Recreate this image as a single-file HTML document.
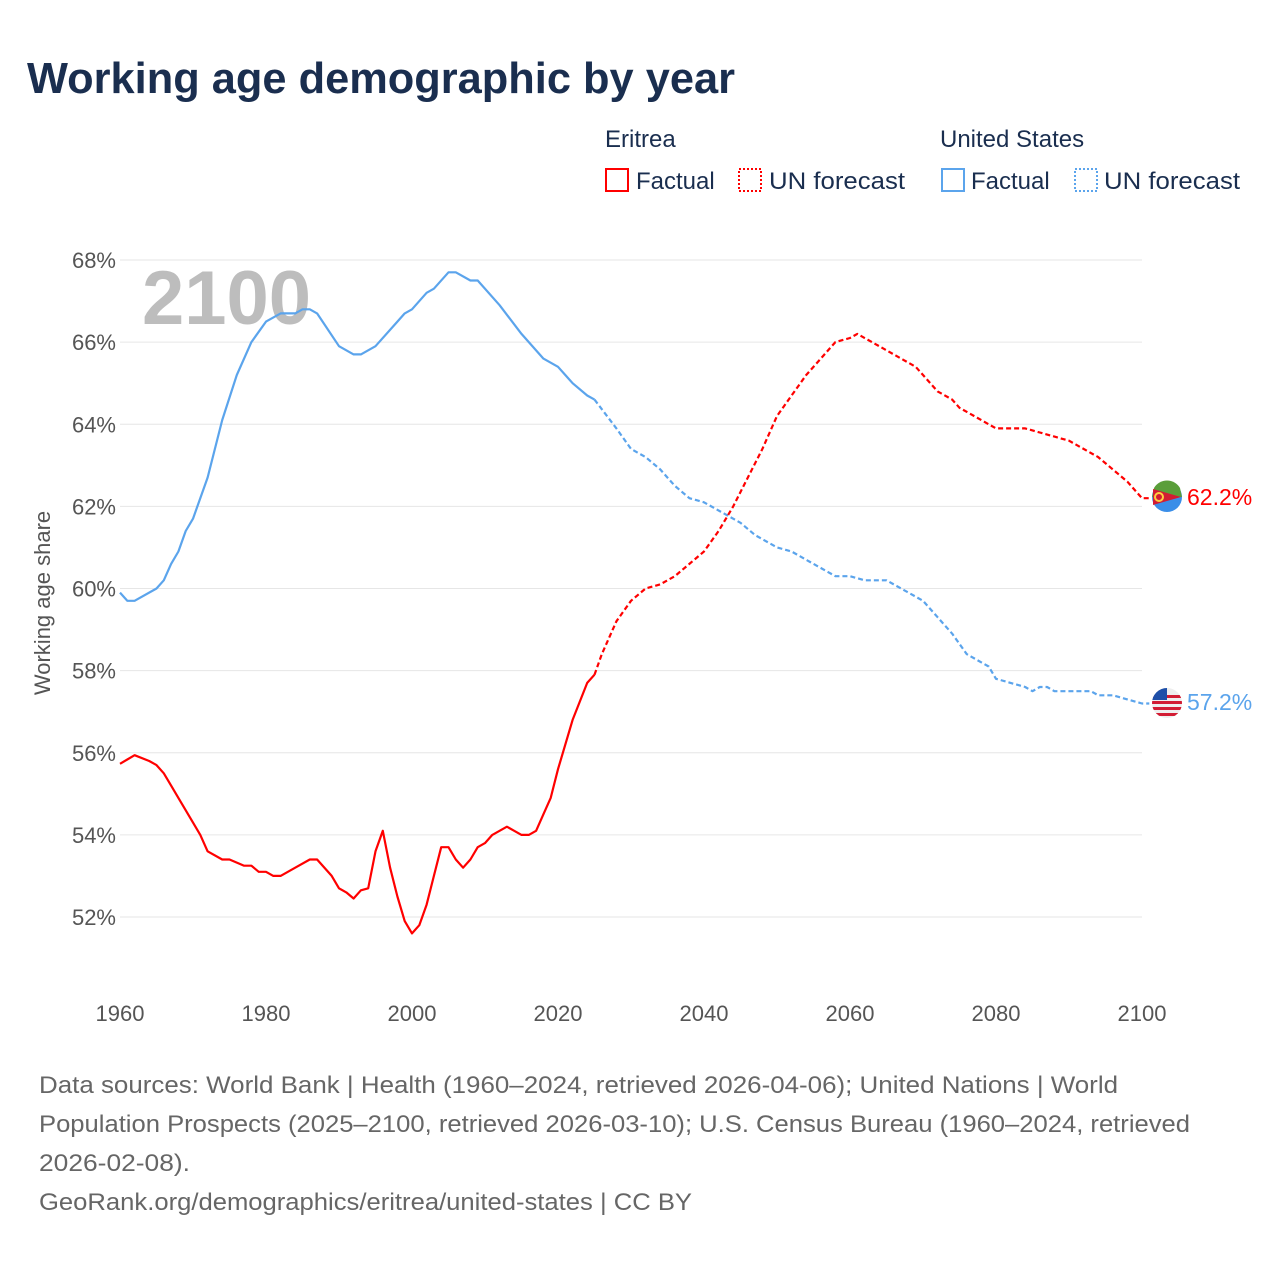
<!DOCTYPE html>
<html><head><meta charset="utf-8"><style>
body{margin:0;background:#fff;font-family:"Liberation Sans",sans-serif;}
</style></head><body>
<svg width="1280" height="1280" viewBox="0 0 1280 1280" xmlns="http://www.w3.org/2000/svg">
<defs><clipPath id="usc"><circle cx="1167" cy="703" r="15"/></clipPath></defs>
<text x="27" y="93" font-size="44" font-weight="bold" fill="#1a2e4f" textLength="708" lengthAdjust="spacingAndGlyphs">Working age demographic by year</text>
<g font-size="24" fill="#1a2e4f">
<text x="605" y="147">Eritrea</text>
<text x="940" y="147">United States</text>
<g><rect x="606" y="169" width="22" height="22" fill="none" stroke="#f00" stroke-width="2"/><text x="636" y="189">Factual</text></g>
<g><rect x="739" y="169" width="22" height="22" fill="none" stroke="#f00" stroke-width="2" stroke-dasharray="2,2"/><text x="769" y="189" textLength="136" lengthAdjust="spacingAndGlyphs">UN forecast</text></g>
<g><rect x="942" y="169" width="22" height="22" fill="none" stroke="#5ba4ec" stroke-width="2"/><text x="971" y="189">Factual</text></g>
<g><rect x="1075" y="169" width="22" height="22" fill="none" stroke="#5ba4ec" stroke-width="2" stroke-dasharray="2,2"/><text x="1104" y="189" textLength="136" lengthAdjust="spacingAndGlyphs">UN forecast</text></g>
</g>
<g id="grid"></g>
<g id="yticks" font-size="22" fill="#555" text-anchor="end"></g>
<g id="xticks" font-size="22" fill="#555" text-anchor="middle"></g>
<text x="0" y="0" transform="translate(50,603) rotate(-90)" font-size="22" fill="#555" text-anchor="middle">Working age share</text>
<text x="142" y="324" font-size="76" font-weight="bold" fill="#bdbdbd">2100</text>
<g id="series"></g>
<g>
<circle cx="1167" cy="497" r="15" fill="#3a8ee8"/>
<path d="M1152,497 L1182,497 L1180,488 A15,15 0 0 0 1154,488 Z" fill="#5a9e3a"/>
<path d="M1153,489 L1181,497 L1153,505 Z" fill="#d21c33"/>
<circle cx="1159" cy="497" r="4" fill="none" stroke="#ffcd40" stroke-width="2"/>
<text x="1187" y="505" font-size="23" fill="#f00">62.2%</text></g>
<g>
<g clip-path="url(#usc)">
<rect x="1150" y="686" width="34" height="34" fill="#eee"/>
<rect x="1150" y="695" width="34" height="3" fill="#d21c33"/><rect x="1150" y="701" width="34" height="3" fill="#d21c33"/><rect x="1150" y="707" width="34" height="3" fill="#d21c33"/><rect x="1150" y="713" width="34" height="3" fill="#d21c33"/>
<rect x="1150" y="686" width="17" height="14" fill="#1e4fa8"/>
</g>
<text x="1187" y="710" font-size="23" fill="#5ba4ec">57.2%</text></g>
<g font-size="24" fill="#666">
<text x="39" y="1093" textLength="1079" lengthAdjust="spacingAndGlyphs">Data sources: World Bank | Health (1960–2024, retrieved 2026-04-06); United Nations | World</text>
<text x="39" y="1132" textLength="1151" lengthAdjust="spacingAndGlyphs">Population Prospects (2025–2100, retrieved 2026-03-10); U.S. Census Bureau (1960–2024, retrieved</text>
<text x="39" y="1171" textLength="151" lengthAdjust="spacingAndGlyphs">2026-02-08).</text>
<text x="39" y="1210" textLength="653" lengthAdjust="spacingAndGlyphs">GeoRank.org/demographics/eritrea/united-states | CC BY</text>
</g>
</svg>
<script>
const yTicks=[52,54,56,58,60,62,64,66,68];
const xTicks=[1960,1980,2000,2020,2040,2060,2080,2100];
const eriYears=[1960,1962,1964,1965,1966,1967,1968,1970,1971,1972,1974,1975,1977,1978,1979,1980,1981,1982,1984,1986,1987,1989,1990,1991,1992,1993,1994,1995,1996,1997,1998,1999,2000,2001,2002,2003,2004,2005,2006,2007,2008,2009,2010,2011,2012,2013,2014,2015,2016,2017,2018,2019,2020,2022,2024,2025];
const eriVals=[55.73,55.94,55.8,55.7,55.5,55.2,54.9,54.3,54.0,53.6,53.4,53.4,53.25,53.25,53.1,53.1,53.0,53.0,53.2,53.4,53.4,53.0,52.7,52.6,52.45,52.65,52.7,53.6,54.1,53.2,52.5,51.9,51.6,51.8,52.3,53.0,53.7,53.7,53.4,53.2,53.4,53.7,53.8,54.0,54.1,54.2,54.1,54.0,54.0,54.1,54.5,54.9,55.6,56.8,57.7,57.9];
const eriFcYears=[2025,2026,2028,2030,2032,2034,2036,2038,2040,2042,2044,2046,2048,2050,2052,2054,2056,2058,2060,2061,2063,2065,2067,2069,2071,2072,2074,2075,2077,2080,2084,2086,2088,2090,2094,2096,2098,2100,2101];
const eriFcVals=[57.9,58.4,59.2,59.7,60.0,60.1,60.3,60.6,60.9,61.4,62.0,62.7,63.4,64.2,64.7,65.2,65.6,66.0,66.1,66.2,66.0,65.8,65.6,65.4,65.0,64.8,64.6,64.4,64.2,63.9,63.9,63.8,63.7,63.6,63.2,62.9,62.6,62.2,62.2];
const usYears=[1960,1961,1962,1965,1966,1967,1968,1969,1970,1972,1974,1976,1978,1980,1982,1984,1985,1986,1987,1990,1992,1993,1995,1998,1999,2000,2002,2003,2005,2006,2008,2009,2012,2015,2018,2020,2021,2022,2024,2025];
const usVals=[59.9,59.7,59.7,60.0,60.2,60.6,60.9,61.4,61.7,62.7,64.1,65.2,66.0,66.5,66.7,66.7,66.8,66.8,66.7,65.9,65.7,65.7,65.9,66.5,66.7,66.8,67.2,67.3,67.7,67.7,67.5,67.5,66.9,66.2,65.6,65.4,65.2,65.0,64.7,64.6];
const usFcYears=[2025,2028,2030,2032,2034,2036,2038,2040,2043,2045,2047,2050,2052,2055,2058,2060,2062,2065,2067,2069,2070,2072,2074,2076,2078,2079,2080,2082,2084,2085,2086,2087,2088,2093,2094,2096,2098,2100,2101];
const usFcVals=[64.6,63.9,63.4,63.2,62.9,62.5,62.2,62.1,61.8,61.6,61.3,61.0,60.9,60.6,60.3,60.3,60.2,60.2,60.0,59.8,59.7,59.3,58.9,58.4,58.2,58.1,57.8,57.7,57.6,57.5,57.6,57.6,57.5,57.5,57.4,57.4,57.3,57.2,57.2];
const NS="http://www.w3.org/2000/svg";
const X=y=>120+(y-1960)*(1142-120)/140;
const Y=v=>260+(68-v)*(917-260)/16;
function mk(t,a,p){const e=document.createElementNS(NS,t);for(const k in a)e.setAttribute(k,a[k]);p.appendChild(e);return e;}
const g=document.getElementById('grid'),yt=document.getElementById('yticks'),xt=document.getElementById('xticks'),s=document.getElementById('series');
yTicks.forEach(v=>{
 const l=mk('line',{x1:120,x2:1142,y1:Y(v),y2:Y(v),stroke:'#e6e6e6','stroke-width':1},g);
 
 
 const t=mk('text',{x:116,y:Y(v)+8},yt);t.textContent=v+'%';
 
 
});
xTicks.forEach(v=>{
 const t=mk('text',{x:X(v),y:1021},xt);t.textContent=v;
 
 
});
function line(xs,vs,col,dash,name){
 const d=xs.map((x,i)=>(i?'L':'M')+X(x).toFixed(1)+','+Y(vs[i]).toFixed(1)).join('');
 const p=mk('path',{d:d,fill:'none',stroke:col,'stroke-width':2.2,'stroke-linejoin':'round'},s);
 if(dash)p.setAttribute('stroke-dasharray','5,3');
 
 
}
line(usYears,usVals,'#5ba4ec',false,'us-factual-line');
line(usFcYears,usFcVals,'#5ba4ec',true,'us-forecast-line');
line(eriYears,eriVals,'#f00',false,'eritrea-factual-line');
line(eriFcYears,eriFcVals,'#f00',true,'eritrea-forecast-line');
</script>
</body></html>
